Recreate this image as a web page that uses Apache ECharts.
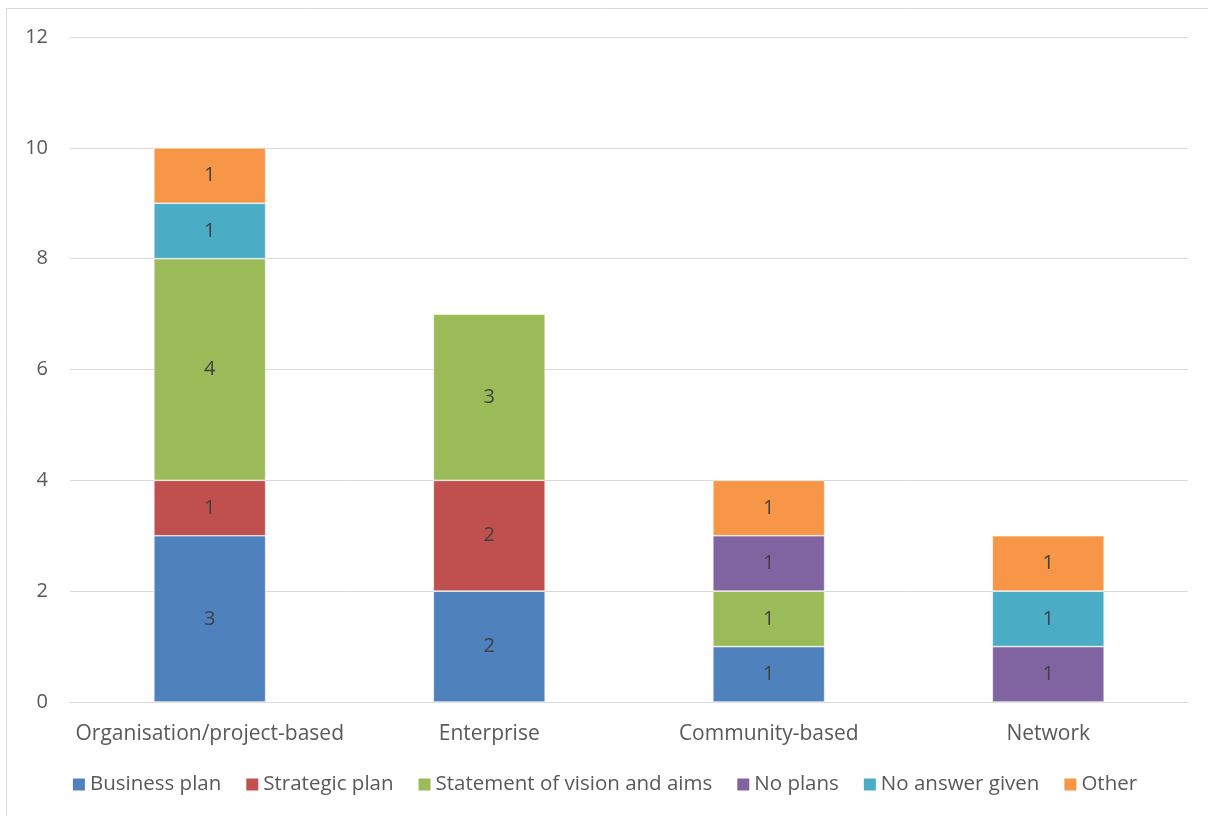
<!DOCTYPE html>
<html>
<head>
<meta charset="utf-8">
<script src="https://cdn.jsdelivr.net/npm/echarts@6/dist/echarts.min.js"></script>
<style>
  html, body { margin: 0; padding: 0; background: #fff; }
  #chart { width: 1208px; height: 816px; }
</style>
</head>
<body>
<div id="chart"></div>
<script>
// Planning approach by type of initiative (counts)
const categories = ['Organisation/project-based', 'Enterprise', 'Community-based', 'Network'];
const businessPlan = [3, 2, 1, null];
const strategicPlan = [1, 2, null, null];
const visionAims = [4, 3, 1, null];
const noPlans = [null, null, 1, 1];
const noAnswer = [1, null, null, 1];
const other = [1, null, 1, 1];
const yTicks = { min: 0, max: 12, interval: 2 };

const seriesDefs = [
  { name: 'Business plan', data: businessPlan, color: '#4F81BD' },
  { name: 'Strategic plan', data: strategicPlan, color: '#C0504D' },
  { name: 'Statement of vision and aims', data: visionAims, color: '#9BBB59' },
  { name: 'No plans', data: noPlans, color: '#8064A2' },
  { name: 'No answer given', data: noAnswer, color: '#4BACC6' },
  { name: 'Other', data: other, color: '#F79646' }
];

const font = 'Open Sans';
const chart = echarts.init(document.getElementById('chart'), null, { renderer: 'canvas' });
chart.setOption({
  animation: false,
  backgroundColor: '#fff',
  textStyle: { fontFamily: font },
  graphic: [{
    type: 'rect',
    shape: { x: 6.5, y: 8.5, width: 1220, height: 830 },
    style: { fill: 'none', stroke: '#d9d9d9', lineWidth: 1 },
    silent: true, z: -1
  }],
  grid: { left: 70, right: 20, top: 37, bottom: 114 },
  legend: {
    bottom: 16,
    left: 'center',
    itemWidth: 14, itemHeight: 14, itemGap: 23,
    icon: 'rect',
    textStyle: { color: '#595959', fontSize: 20.5, fontFamily: font, padding: [0, 0, 0, -1] },
    data: seriesDefs.map(s => s.name)
  },
  xAxis: {
    type: 'category',
    data: categories,
    axisLine: { lineStyle: { color: '#d9d9d9', width: 1 } },
    axisTick: { show: false },
    axisLabel: { color: '#595959', fontSize: 21, margin: 22, interval: 0, fontFamily: font }
  },
  yAxis: {
    type: 'value',
    min: yTicks.min, max: yTicks.max, interval: yTicks.interval,
    axisLine: { show: false },
    axisTick: { show: false },
    splitLine: { lineStyle: { color: '#d9d9d9', width: 1 } },
    axisLabel: { color: '#595959', fontSize: 20, margin: 22, fontFamily: font }
  },
  series: seriesDefs.map(s => ({
    name: s.name,
    type: 'bar',
    stack: 'total',
    barWidth: '40%',
    data: s.data,
    itemStyle: { color: s.color, borderColor: '#fff', borderWidth: 0.6 },
    label: { show: true, position: 'inside', color: '#404040', fontSize: 20, fontFamily: font }
  }))
});
</script>
</body>
</html>
